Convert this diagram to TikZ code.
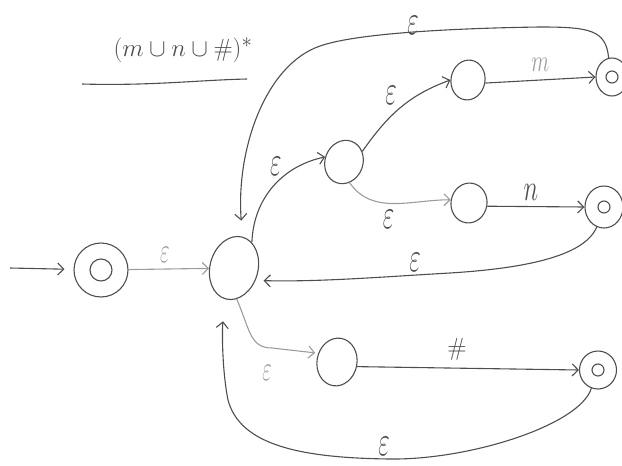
\documentclass[tikz,border=0pt]{standalone}
\usepackage{graphicx}
\usetikzlibrary{arrows.meta,shapes.geometric}
\definecolor{ink}{HTML}{4E4E4E}
\definecolor{inklight}{HTML}{9C9C9C}
\newcommand{\epsl}{\scalebox{1}[1.7]{$\varepsilon$}}
\begin{document}
\begin{tikzpicture}[x=1pt,y=1pt,
  line/.style={draw=ink, line width=1.1pt},
  edge/.style={line, -{Straight Barb[length=6pt,width=12pt]}},
  faint/.style={draw=inklight},
  statebox/.style={ellipse, draw=ink, line width=1.1pt, inner sep=0pt},
  inner/.style={circle, draw=ink, line width=1.1pt, inner sep=0pt},
  lab/.style={text=ink, inner sep=0pt, font=\fontsize{23}{23}\selectfont},
  labsmall/.style={text=inklight, inner sep=0pt, font=\fontsize{20}{20}\selectfont},
]
\useasboundingbox (0,0) rectangle (622,-466);

% title
\node[text=ink, inner sep=0pt, font=\fontsize{30}{34}\selectfont] (title) at (183,-50) {$(m\cup n\cup\#)^{*}$};
\coordinate (ul1) at (82,-84);
\coordinate (ul2) at (247,-79);
\draw[line] (ul1) .. controls (150,-86) and (200,-80) .. (ul2);

% states
\node[statebox, minimum width=54, minimum height=54] (s0) at (101,-270) {};
\node[inner, minimum size=22] (s0in) at (s0) {};
\node[statebox, minimum width=48, minimum height=64, rotate=-15] (hub) at (234,-268) {};
\node[statebox, minimum width=38, minimum height=44, rotate=-20] (a) at (344,-162) {};
\node[statebox, minimum width=34, minimum height=40, rotate=-10] (m1) at (468,-80) {};
\node[statebox, minimum width=32, minimum height=38] (mf) at (612,-77) {};
\node[inner, minimum size=12] (mfin) at (mf) {};
\node[statebox, minimum width=36, minimum height=40, rotate=-10] (n1) at (469,-203) {};
\node[statebox, minimum width=38, minimum height=42] (nf) at (604,-207) {};
\node[inner, minimum size=12] (nfin) at (nf) {};
\node[statebox, minimum width=40, minimum height=48, rotate=-10] (h1) at (337,-362) {};
\node[statebox, minimum width=37, minimum height=38] (hf) at (598,-370) {};
\node[inner, minimum size=12] (hfin) at (hf) {};

% initial arrow
\coordinate (init) at (10,-268);
\draw[edge] (init) -- (s0) [shorten >=9pt];

% start -> hub
\draw[edge, faint] (s0) -- node[pos=0.45, above=6pt, labsmall] {\epsl} (hub);

% hub -> a
\draw[edge] (hub.70) to[out=88, in=192] node[pos=0.62, above left=1pt, lab] {\epsl} (a.185);
% a -> m1
\draw[edge] (a.50) to[out=55, in=200] node[pos=0.5, above left=3pt, lab] {\epsl} (m1.190);
% a -> n1
\draw[edge, faint] (a.-55) to[out=-55, in=180] node[pos=0.45, below=6pt, lab] {\epsl} (n1.west);

% m1 -> mf
\draw[edge] (m1.east) -- node[above=8pt, labsmall] {\scalebox{1}[1.5]{$m$}} (mf.west);
% n1 -> nf
\draw[edge] (n1.east) -- node[pos=0.45, above=6pt, lab] {\scalebox{1}[1.5]{$n$}} (nf.west);
% h1 -> hf
\draw[edge] (h1.-3) -- node[pos=0.45, above=7pt, lab] {$\#$} (hf.west);

% mf -> hub (top loop)
\draw[edge] (mf.100) .. controls (606,-30) and (590,-27) .. (540,-27)
  .. controls (470,-28) and (360,-32) .. (320,-46)
  .. controls (265,-65) and (236,-150) .. (hub.north) [shorten >=16pt];
\node[lab] (e1) at (413,-25) {\epsl};

% nf -> hub
\draw[edge] (nf.250) .. controls (585,-255) and (530,-268) .. (450,-273)
  .. controls (380,-277) and (320,-282) .. (hub.-15) [shorten >=8pt];
\node[lab] (e2) at (415,-262) {\epsl};

% hub -> h1
\draw[edge, faint] (hub.-70) .. controls (250,-330) and (250,-348) .. (272,-348)
  -- (h1.165) [shorten >=3pt];
\node[labsmall] (e3) at (267,-373) {\epsl};

% hf -> hub (bottom loop)
\draw[edge] (hf.250) .. controls (580,-425) and (470,-460) .. (390,-459)
  .. controls (300,-458) and (240,-445) .. (228,-400)
  .. controls (222,-370) and (222,-330) .. (hub.south) [shorten >=22pt];
\node[lab] (e4) at (384,-446) {\epsl};
\end{tikzpicture}
\end{document}
